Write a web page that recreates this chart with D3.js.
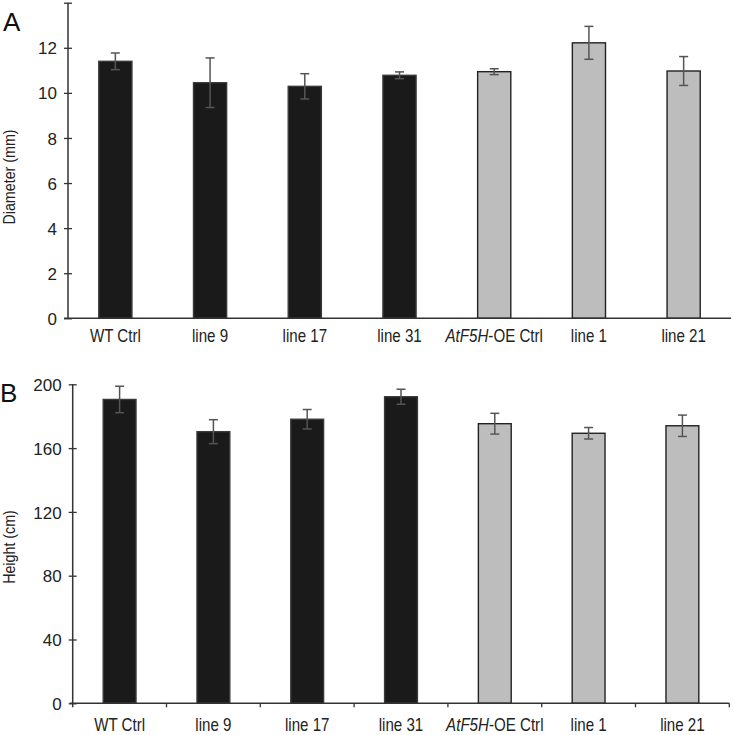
<!DOCTYPE html>
<html>
<head>
<meta charset="utf-8">
<script src="https://cdn.jsdelivr.net/npm/d3@7"></script>
<style>
  body { margin: 0; background: #fff; }
  svg text { font-family: "Liberation Sans Narrow", "Arial Narrow", "Liberation Sans", Arial, sans-serif; fill: #222; }
</style>
</head>
<body>
<svg width="733" height="735"></svg>
<script>
// categories, first four are the black (WT) group, rest grey (AtF5H-OE)
var lines = ["WT Ctrl", "line 9", "line 17", "line 31", "AtF5H-OE Ctrl", "line 1", "line 21"];
var group = ["wt", "wt", "wt", "wt", "oe", "oe", "oe"];
// panel A: stem diameter (mm)
var diameter = [11.40, 10.45, 10.29, 10.78, 10.94, 12.22, 10.97];
var diameterErr = [0.37, 1.10, 0.56, 0.15, 0.13, 0.73, 0.64];
// panel B: plant height (cm)
var height = [190.5, 170.3, 178.1, 192.2, 175.3, 169.3, 174.0];
var heightErr = [8.3, 7.5, 6.1, 4.7, 6.5, 3.6, 6.7];
var diamTicks = [0, 2, 4, 6, 8, 10, 12, 14];
var heightTicks = [0, 40, 80, 120, 160, 200];

var fills = {wt: "#1a1a1a", oe: "#bdbdbd"};
var svg = d3.select("svg");
var narrow = 0.84; // no narrow font installed, squeeze horizontally instead

function panel(opt) {
  var g = svg.append("g");
  var x = d3.scaleBand().domain(lines).range([opt.x0, opt.x1]).paddingInner(0.65).paddingOuter(0.325);
  var y = d3.scaleLinear().domain(opt.domain).range([opt.y0, opt.y1]);
  var rows = lines.map(function(d, i) { return {name: d, v: opt.values[i], e: opt.errs[i], grp: group[i]}; });
  var cx = function(d) { return x(d.name || d) + x.bandwidth() / 2; };

  // bars
  g.selectAll(".bar").data(rows).enter().append("rect")
    .attr("class", "bar")
    .attr("x", function(d) { return x(d.name); })
    .attr("width", x.bandwidth())
    .attr("y", function(d) { return y(d.v); })
    .attr("height", function(d) { return y(0) - y(d.v); })
    .attr("fill", function(d) { return fills[d.grp]; })
    .attr("stroke", function(d) { return d.grp == "wt" ? "#3a3a3a" : "#222"; })
    .attr("stroke-width", 1.4);

  // error bars
  var eb = g.selectAll(".err").data(rows).enter().append("g").attr("class", "err")
    .attr("stroke", "#555").attr("stroke-width", 1.5);
  eb.append("line").attr("x1", cx).attr("x2", cx)
    .attr("y1", function(d) { return y(d.v + d.e); })
    .attr("y2", function(d) { return y(d.v - d.e); });
  [1, -1].forEach(function(s) {
    eb.append("line")
      .attr("x1", function(d) { return cx(d) - 4.5; })
      .attr("x2", function(d) { return cx(d) + 4.5; })
      .attr("y1", function(d) { return y(d.v + s * d.e); })
      .attr("y2", function(d) { return y(d.v + s * d.e); });
  });

  // y axis, ticks crossing the line
  var ya = g.append("g").attr("transform", "translate(" + opt.x0 + ",0)")
    .call(d3.axisLeft(y).tickValues(opt.ticks).tickSizeOuter(0).tickSizeInner(4)
      .tickFormat(function(d) { return opt.hideTop && d == opt.domain[1] ? "" : d; }));
  ya.select(".domain").remove();
  ya.selectAll(".tick line").attr("x1", 4).attr("x2", -4).attr("stroke", "#333").attr("stroke-width", 1.3);
  ya.selectAll(".tick text").attr("x", -11).attr("dy", "0.36em").style("font-size", "17px");
  g.append("line").attr("x1", opt.x0).attr("x2", opt.x0)
    .attr("y1", y(opt.domain[1])).attr("y2", y(0) + opt.yExt)
    .attr("stroke", "#333").attr("stroke-width", 1.5);

  // x axis
  g.append("line").attr("x1", opt.x0 - opt.xExt).attr("x2", opt.x1)
    .attr("y1", y(0)).attr("y2", y(0))
    .attr("stroke", "#333").attr("stroke-width", 1.5);
  if (opt.xTicks) {
    g.selectAll(".xt").data(lines).enter().append("line")
      .attr("x1", function(d) { return x(d) - x.step() * 0.325 + x.step(); })
      .attr("x2", function(d) { return x(d) - x.step() * 0.325 + x.step(); })
      .attr("y1", y(0)).attr("y2", y(0) + 4)
      .attr("stroke", "#333").attr("stroke-width", 1.3);
  }
  var lab = g.selectAll(".xl").data(lines).enter().append("text")
    .attr("transform", function(d) { return "translate(" + cx(d) + "," + opt.labelY + ") scale(" + narrow + ",1)"; })
    .attr("text-anchor", "middle").style("font-size", "18px");
  lab.each(function(d) {
    var t = d3.select(this);
    if (d.indexOf("AtF5H") == 0) {
      t.append("tspan").style("font-style", "italic").text("AtF5H");
      t.append("tspan").text(d.slice(5));
    } else t.text(d);
  });

  // y title
  g.append("text").attr("transform", "translate(15," + opt.titleY + ") rotate(-90) scale(" + narrow + ",1)")
    .attr("text-anchor", "middle").style("font-size", "17px").text(opt.title);
  // panel letter
  g.append("text").attr("x", opt.letterX).attr("y", opt.letterY)
    .style("font-family", "Liberation Sans, Arial, sans-serif").style("font-size", "26px")
    .style("fill", "#111").text(opt.letter);
}

panel({values: diameter, errs: diameterErr, domain: [0, 14], ticks: diamTicks, hideTop: true,
  x0: 68, x1: 731, y0: 318.3, y1: 2.7, yExt: 0, xExt: 4, xTicks: false, labelY: 342,
  title: "Diameter (mm)", titleY: 177, letter: "A", letterX: 3, letterY: 31});
panel({values: height, errs: heightErr, domain: [0, 200], ticks: heightTicks, hideTop: false,
  x0: 72.7, x1: 729.3, y0: 703.3, y1: 384.3, yExt: 4, xExt: 3, xTicks: true, labelY: 731,
  title: "Height (cm)", titleY: 547, letter: "B", letterX: 0, letterY: 402});
</script>
</body>
</html>
